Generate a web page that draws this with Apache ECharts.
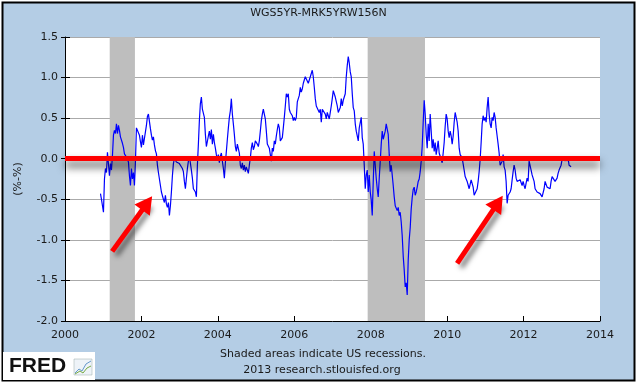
<!DOCTYPE html>
<html><head><meta charset="utf-8">
<script src="https://cdn.jsdelivr.net/npm/echarts@6/dist/echarts.min.js"></script>
<style>html,body{margin:0;padding:0;background:#fff;}#c{width:637px;height:384px;}</style>
</head><body><div id="c"></div>
<script>
const title = 'WGS5YR-MRK5YRW156N';
const yAxisName = '(%-%)';
const footnotes = ['Shaded areas indicate US recessions.', '2013 research.stlouisfed.org'];
const xMin = 2000, xMax = 2014, xStep = 2;
const yMin = -2.0, yMax = 1.5, yStep = 0.5;
const recessions = [[2001.17, 2001.83], [2007.92, 2009.42]];
const firstYear = 2000.928;   // first observation (early Dec 2000)
const stepDays = 9.55;        // spacing between sampled observations
const values = [
-0.43,-0.50,-0.58,-0.66,-0.25,-0.12,-0.17,0.08,0.06,-0.21,
-0.06,-0.14,0.04,0.29,0.35,0.31,0.43,0.31,0.41,0.35,
0.27,0.25,0.19,0.14,0.06,0.08,0.02,0.04,-0.04,-0.21,
-0.33,-0.12,-0.25,-0.17,-0.33,-0.04,0.38,0.36,0.39,0.29,
0.21,0.14,0.29,0.17,0.25,0.33,0.41,0.52,0.55,0.54,
0.37,0.29,0.23,0.27,0.17,0.10,0.06,-0.08,-0.17,-0.25,
-0.33,-0.41,-0.39,-0.50,-0.54,-0.45,-0.56,-0.60,-0.54,-0.70,
-0.58,-0.41,-0.21,-0.06,0.00,0.02,-0.04,-0.06,-0.02,-0.06,
-0.08,-0.05,-0.12,-0.16,-0.28,-0.37,-0.24,-0.12,-0.03,0.03,
0.01,-0.14,-0.24,-0.37,-0.35,-0.41,-0.47,-0.08,0.18,0.47,
0.68,0.76,0.61,0.63,0.51,0.30,0.15,0.13,0.28,0.34,
0.24,0.36,0.18,0.30,0.20,0.13,0.05,-0.01,0.05,-0.05,
0.03,0.07,-0.03,-0.12,-0.24,-0.05,0.09,0.24,0.38,0.51,
0.59,0.74,0.55,0.43,0.30,0.15,0.09,0.18,0.20,0.07,
-0.08,-0.12,-0.05,-0.14,-0.08,-0.16,-0.10,-0.14,-0.18,-0.08,
0.01,0.13,0.20,0.11,0.15,0.22,0.20,0.18,0.15,0.22,
0.34,0.47,0.55,0.61,0.55,0.49,0.34,0.18,0.20,0.13,
0.11,-0.03,0.13,0.09,0.22,0.18,0.28,0.36,0.43,0.38,
0.22,0.20,0.26,0.38,0.51,0.65,0.80,0.76,0.80,0.61,
0.57,0.59,0.53,0.47,0.51,0.47,0.51,0.70,0.74,0.78,
0.88,0.82,0.86,0.93,0.97,1.01,1.03,0.99,0.93,0.95,
0.93,1.05,1.09,1.01,0.88,0.74,0.65,0.63,0.63,0.57,
0.61,0.45,0.61,0.63,0.59,0.55,0.49,0.57,0.55,0.49,
0.57,0.65,0.74,0.84,0.82,0.76,0.74,0.65,0.57,0.55,
0.63,0.74,0.65,0.72,0.74,0.80,1.01,1.15,1.26,1.18,
1.07,1.01,0.80,0.63,0.59,0.43,0.34,0.28,0.22,0.38,
0.40,0.51,0.26,0.18,-0.08,-0.37,-0.20,-0.14,-0.41,-0.20,
-0.41,-0.51,-0.70,-0.28,0.09,-0.08,-0.24,-0.37,-0.47,-0.24,
-0.03,0.18,0.34,0.24,0.22,0.34,0.43,0.45,0.30,0.05,
-0.16,-0.08,-0.20,-0.33,-0.47,-0.58,-0.60,-0.64,-0.60,-0.70,
-0.66,-0.78,-0.95,-1.20,-1.37,-1.58,-1.53,-1.68,-1.25,-1.00,
-0.85,-0.62,-0.48,-0.38,-0.35,-0.45,-0.41,-0.35,-0.28,-0.25,
-0.16,-0.03,0.15,0.45,0.72,0.55,0.30,0.13,0.43,0.22,
0.55,0.34,0.13,0.24,0.09,0.20,0.05,0.13,0.22,0.07,
0.03,0.01,-0.05,0.07,0.20,0.40,0.55,0.49,0.34,0.26,
0.34,0.28,0.18,0.28,0.45,0.57,0.51,0.45,0.34,0.13,
0.05,0.07,0.01,-0.01,-0.14,-0.22,-0.24,-0.28,-0.30,-0.37,
-0.35,-0.26,-0.28,-0.35,-0.45,-0.47,-0.45,-0.37,-0.28,-0.16,
-0.01,0.20,0.43,0.53,0.47,0.51,0.45,0.63,0.76,0.55,
0.43,0.38,0.51,0.47,0.57,0.51,0.38,0.28,0.18,0.07,
-0.08,-0.10,-0.03,0.05,-0.10,-0.14,-0.28,-0.55,-0.45,-0.47,
-0.41,-0.37,-0.26,-0.16,-0.08,-0.14,-0.24,-0.28,-0.26,-0.28,
-0.26,-0.28,-0.33,-0.28,-0.33,-0.37,-0.30,-0.24,-0.28,-0.03,
-0.03,-0.14,-0.20,-0.24,-0.28,-0.37,-0.39,-0.41,-0.41,-0.39,
-0.43,-0.41,-0.47,-0.49,-0.37,-0.28,-0.28,-0.35,-0.37,-0.33,
-0.37,-0.28,-0.22,-0.24,-0.22,-0.28,-0.26,-0.24,-0.18,-0.14,
-0.12,-0.08,-0.01,-0.03,0.03,-0.03,0.03,-0.03,0.01,-0.08,
-0.10,-0.10
];
const arrows = [
  [[2001.234, -1.142], [2002.149, -0.548]],
  [[2010.261, -1.290], [2011.331, -0.542]]
];

const FONT = 'DejaVu Sans';
const seriesData = values.map((v, i) => [firstYear + i * stepDays / 365.25, v]);

const chart = echarts.init(document.getElementById('c'), null, {renderer: 'canvas'});
chart.setOption({
  animation: false,
  backgroundColor: '#ffffff',
  graphic: [
    {type: 'rect', z: -10, silent: true, shape: {x: 2.5, y: 2.5, width: 632, height: 378},
     style: {fill: '#B4CDE5', stroke: '#000', lineWidth: 2}},
    {type: 'text', left: 'center', top: 8, silent: true,
     style: {text: title, font: '11px "' + FONT + '"', fill: '#1a1a1a'}},
    {type: 'text', silent: true, x: 323, y: 354,
     style: {text: footnotes[0], font: '11px "' + FONT + '"', fill: '#1a1a1a', align: 'center', verticalAlign: 'middle'}},
    {type: 'text', silent: true, x: 322, y: 370,
     style: {text: footnotes[1], font: '11px "' + FONT + '"', fill: '#1a1a1a', align: 'center', verticalAlign: 'middle'}},
    {type: 'group', silent: true, x: 3, y: 352, children: [
      {type: 'rect', shape: {x: 0, y: 0, width: 92, height: 28}, style: {fill: '#fff'}},
      {type: 'text', x: 6, y: 14, style: {text: 'FRED', font: 'bold 21px "Liberation Sans"', fill: '#111', verticalAlign: 'middle'}},
      {type: 'rect', shape: {x: 71, y: 7, width: 18, height: 16}, style: {fill: '#eef3f8', stroke: '#9aa', lineWidth: 0.5}},
      {type: 'polyline', shape: {points: [[72, 21], [76, 17], [79, 19], [83, 12], [88, 9]]}, style: {stroke: '#6699cc', fill: null, lineWidth: 1}},
      {type: 'polyline', shape: {points: [[72, 22], [77, 19], [80, 21], [84, 16], [88, 14]]}, style: {stroke: '#77aa44', fill: null, lineWidth: 1}}
    ]}
  ],
  grid: {left: 65, right: 37, top: 37, bottom: 63, show: true, backgroundColor: '#fff', borderWidth: 0},
  xAxis: {
    type: 'value', min: xMin, max: xMax, interval: xStep,
    axisLine: {show: true, onZero: false, lineStyle: {color: '#000', width: 1}},
    axisTick: {show: true, inside: true, length: 5, lineStyle: {color: '#000'}},
    axisLabel: {fontFamily: FONT, fontSize: 11, color: '#1a1a1a', margin: 9, formatter: v => String(v)},
    splitLine: {show: false}
  },
  yAxis: [{
    type: 'value', min: yMin, max: yMax, interval: yStep,
    name: yAxisName, nameLocation: 'middle', nameGap: 41, nameRotate: 90,
    nameTextStyle: {fontFamily: FONT, fontSize: 11, color: '#1a1a1a'},
    axisLine: {show: true, onZero: false, lineStyle: {color: '#000', width: 1}},
    axisTick: {show: true, inside: true, length: 5, lineStyle: {color: '#000'}},
    axisLabel: {fontFamily: FONT, fontSize: 11, color: '#1a1a1a', margin: 7, formatter: v => v.toFixed(1)},
    splitLine: {show: true, lineStyle: {color: '#aaaaaa', width: 1}}
  }, {
    type: 'value', min: yMin, max: yMax, interval: yStep, position: 'left',
    axisLine: {show: false}, axisLabel: {show: false}, splitLine: {show: false},
    axisTick: {show: true, inside: false, length: 4, lineStyle: {color: '#000'}}
  }],
  series: [
    {
      type: 'line', data: [], z: 1, silent: true,
      markArea: {silent: true, itemStyle: {color: '#BEBEBE'},
        data: recessions.map(r => [{xAxis: r[0]}, {xAxis: r[1]}])}
    },
    {
      type: 'line', data: seriesData, z: 3, silent: true, showSymbol: false, symbol: 'none',
      lineStyle: {color: '#0000FF', width: 1.2}
    },
    {
      type: 'line', data: [], z: 5, silent: true,
      markLine: {
        silent: true, symbol: ['none', 'none'], label: {show: false}, animation: false,
        lineStyle: {type: 'solid'},
        data: [
          {yAxis: 0, lineStyle: {color: '#ff0000', width: 5, shadowColor: 'rgba(0,0,0,0.7)', shadowBlur: 8, shadowOffsetY: 6}},
          ...arrows.map(a => [
            {coord: a[0], symbol: 'none', lineStyle: {color: '#ff0000', width: 5, shadowColor: 'rgba(0,0,0,0.5)', shadowBlur: 5, shadowOffsetX: 4, shadowOffsetY: 4}},
            {coord: a[1], symbol: 'triangle', symbolSize: [19, 17]}
          ])
        ]
      }
    }
  ]
});
</script></body></html>
